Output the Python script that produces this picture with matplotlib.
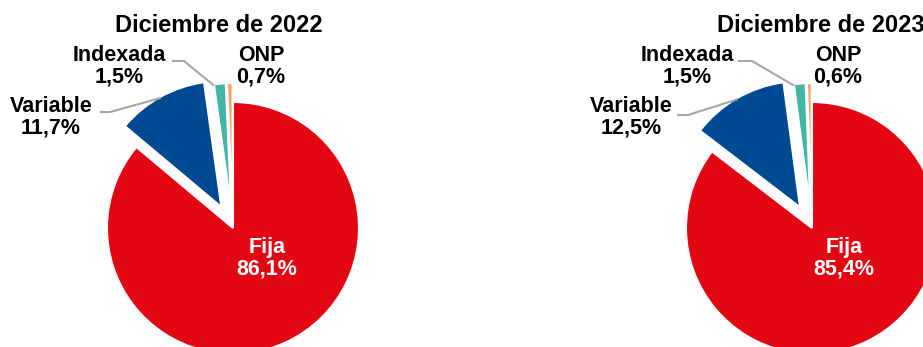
import numpy as np
import matplotlib.pyplot as plt

plt.rcParams['font.family'] = ['Liberation Sans', 'DejaVu Sans']

# Datos
titulos = ['Diciembre de 2022', 'Diciembre de 2023']
categorias = ['Fija', 'Variable', 'Indexada', 'ONP']
valores_2022 = [86.1, 11.7, 1.5, 0.7]
valores_2023 = [85.4, 12.5, 1.5, 0.6]
colores = ['#E30613', '#004A94', '#41B6A6', '#F6A25A']
explode = [0, 0.19, 0.15, 0.15]   # fraccion del radio

W, H = 923, 347
R = 126

# Posiciones (pixeles, origen arriba-izquierda)
centros = [(233, 228), (812, 228)]
pos_titulo = [(219, 32), (821, 32)]
# offsets de etiquetas respecto al centro del pie
pos_etiq = {
    'Fija': [(34, 30), (32, 30)],
    'Variable': [(-182, -111), (-181, -111)],
    'Indexada': [(-114, -162), (-125, -162)],
    'ONP': [(28, -162), (26, -162)],
}
# codo de las lineas guia (inicio, quiebre)
guias = {
    'Variable': [((100, 112), (110, 112)), ((677, 115), (688, 115))],
    'Indexada': [((172, 61), (184, 61)), ((738, 61), (752, 61))],
}

fig = plt.figure(figsize=(W / 100, H / 100), dpi=100)
ax = fig.add_axes([0, 0, 1, 1])

for k, valores in enumerate([valores_2022, valores_2023]):
    cx, cy = centros[k]
    # en pie() el explode va en unidades de datos, asi que se escala por R
    wedges, _ = ax.pie(valores, colors=colores,
                       explode=[e * R for e in explode],
                       startangle=90, counterclock=False,
                       center=(cx, H - cy), radius=R,
                       wedgeprops=dict(edgecolor='white', linewidth=1.5))

    ax.text(pos_titulo[k][0], H - pos_titulo[k][1], titulos[k],
            ha='center', va='baseline', fontsize=17, fontweight='bold')

    for i, cat in enumerate(categorias):
        dx, dy = pos_etiq[cat][k]
        txt = f'{cat}\n{valores[i]:.1f}%'.replace('.', ',')
        color = 'white' if cat == 'Fija' else 'black'
        ax.text(cx + dx, H - (cy + dy), txt, ha='center', va='center',
                fontsize=15.5, fontweight='bold', color=color, linespacing=1.05)

        if cat in guias:
            w = wedges[i]
            ang = np.deg2rad((w.theta1 + w.theta2) / 2)
            if cat == 'Indexada':
                ang = np.deg2rad(w.theta2)
            ex, ey = w.center
            px = ex + w.r * 0.99 * np.cos(ang)
            py = ey + w.r * 0.99 * np.sin(ang)
            (x0, y0), (x1, y1) = guias[cat][k]
            ax.plot([x0, x1, px], [H - y0, H - y1, py],
                    color='#A6A6A6', linewidth=1.5, solid_capstyle='butt')

ax.set_xlim(0, W)
ax.set_ylim(0, H)
ax.set_aspect('equal')
ax.axis('off')

plt.savefig('out.png', dpi=100)
